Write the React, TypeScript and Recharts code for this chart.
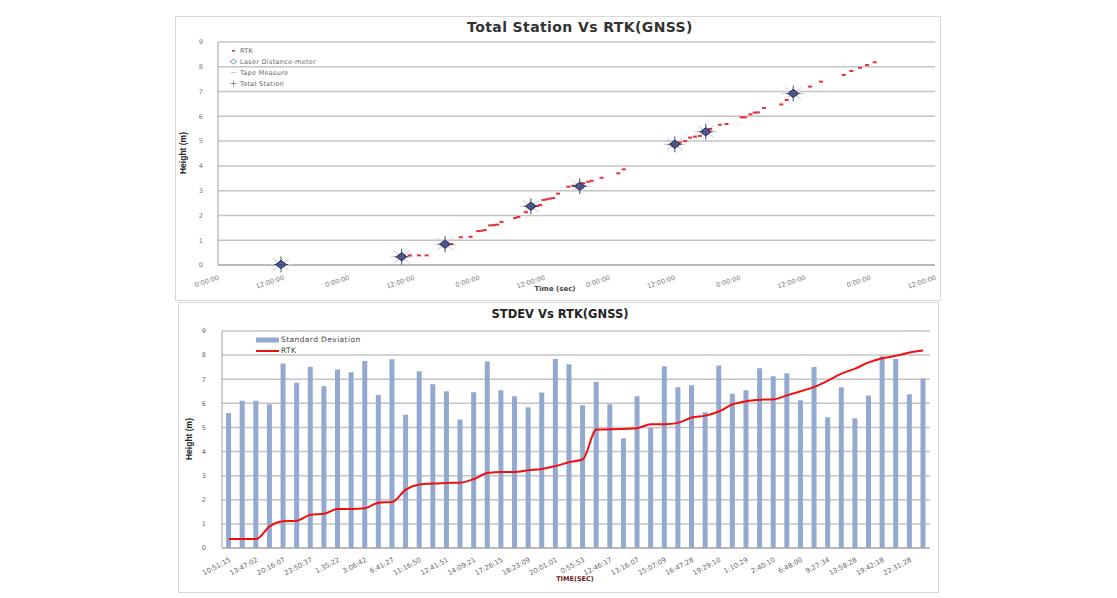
import React from 'react';
import { ScatterChart, Scatter, XAxis, YAxis, CartesianGrid, ComposedChart, Bar, Line } from 'recharts';

// ---------- Top chart data (time in hours since start) ----------
const rtkHours = [35.3, 37.0, 38.4, 43.0, 44.7, 46.5, 47.9, 48.5, 49.1, 50.1, 50.8, 51.4, 52.2, 54.7, 55.3, 56.7, 58.0, 58.7, 59.3, 59.9, 60.5, 61.1, 61.7, 62.6, 64.5, 65.4, 67.2, 68.2, 68.8, 70.6, 73.7, 74.7, 85.0, 86.0, 86.9, 87.8, 88.7, 90.6, 92.4, 93.6, 96.4, 97.0, 98.0, 98.8, 99.4, 100.5, 103.7, 104.7, 109.0, 111.0, 115.2, 116.6, 118.2, 119.5, 120.9];
const rtkHeights = [0.39, 0.39, 0.39, 0.84, 1.12, 1.14, 1.37, 1.38, 1.41, 1.6, 1.61, 1.63, 1.74, 1.9, 1.94, 2.13, 2.35, 2.38, 2.42, 2.62, 2.65, 2.68, 2.7, 2.88, 3.16, 3.2, 3.3, 3.36, 3.4, 3.52, 3.7, 3.86, 4.94, 5.0, 5.14, 5.18, 5.21, 5.49, 5.66, 5.69, 5.96, 5.96, 6.08, 6.15, 6.16, 6.34, 6.48, 6.66, 7.2, 7.4, 7.67, 7.83, 7.96, 8.07, 8.18];
const stationHours = [11.6, 33.8, 41.8, 57.6, 66.6, 84.1, 89.8, 105.9];
const stationHeights = [0.02, 0.33, 0.84, 2.37, 3.18, 4.87, 5.38, 6.92];
const timeTicks = [0, 12, 24, 36, 48, 60, 72, 84, 96, 108, 120, 132];
const timeTickLabels = ['0:00:00', '12:00:00', '0:00:00', '12:00:00', '0:00:00', '12:00:00', '0:00:00', '12:00:00', '0:00:00', '12:00:00', '0:00:00', '12:00:00'];
const heightTicks = [0, 1, 2, 3, 4, 5, 6, 7, 8, 9];

// ---------- Bottom chart data ----------
const sampleTickLabels = ['10:51:15', '13:47:02', '20:16:07', '23:50:37', '1:35:22', '3:06:42', '6:41:27', '11:16:50', '12:41:51', '14:09:21', '17:26:15', '18:23:09', '20:01:01', '0:55:53', '12:46:17', '13:16:07', '15:07:09', '16:47:28', '19:29:10', '1:10:29', '2:40:10', '6:48:00', '9:27:34', '13:58:28', '19:42:18', '22:31:28'];
const stdevValues = [5.6, 6.11, 6.11, 5.96, 7.65, 6.85, 7.52, 6.71, 7.4, 7.29, 7.76, 6.35, 7.83, 5.53, 7.33, 6.79, 6.5, 5.33, 6.46, 7.73, 6.54, 6.29, 5.84, 6.45, 7.84, 7.62, 5.92, 6.9, 5.96, 4.55, 6.29, 4.98, 7.54, 6.67, 6.75, 5.63, 7.57, 6.4, 6.54, 7.46, 7.12, 7.25, 6.13, 7.51, 5.42, 6.67, 5.38, 6.33, 7.95, 7.84, 6.38, 7.03];
const rtkLineValues = [0.37, 0.37, 0.37, 0.9, 1.11, 1.13, 1.38, 1.42, 1.62, 1.62, 1.65, 1.88, 1.91, 2.42, 2.63, 2.67, 2.7, 2.71, 2.86, 3.11, 3.15, 3.15, 3.22, 3.28, 3.4, 3.56, 3.68, 4.91, 4.92, 4.94, 4.97, 5.13, 5.13, 5.19, 5.41, 5.49, 5.66, 5.96, 6.09, 6.15, 6.17, 6.33, 6.5, 6.68, 6.94, 7.23, 7.44, 7.7, 7.87, 7.97, 8.11, 8.19];

const rtkPoints = rtkHours.map((h, i) => ({ h, v: rtkHeights[i] }));
const stationPoints = stationHours.map((h, i) => ({ h, v: stationHeights[i] }));
const barData = stdevValues.map((sd, i) => ({ idx: i, sd, rtk: rtkLineValues[i] }));

const FONT = '"DejaVu Sans", Verdana, sans-serif';
const GRID = '#C4C4C4';

const RtkShape = (p: any) => <rect x={p.cx - 2} y={p.cy - 1} width={4} height={2} fill="#E8303A" />;
const TapeShape = (p: any) => (
  <g stroke="#CACACA" strokeWidth={1}>
    <line x1={p.cx - 11} y1={p.cy} x2={p.cx + 11} y2={p.cy} />
    <line x1={p.cx - 8} y1={p.cy - 6} x2={p.cx + 8} y2={p.cy + 6} />
    <line x1={p.cx - 8} y1={p.cy + 6} x2={p.cx + 8} y2={p.cy - 6} />
  </g>
);
const LaserShape = (p: any) => (
  <path d={`M${p.cx},${p.cy - 4} L${p.cx + 5},${p.cy} L${p.cx},${p.cy + 4} L${p.cx - 5},${p.cy} Z`} fill="#5C6C9C" stroke="#26357A" strokeWidth={1.2} />
);
const StationShape = (p: any) => (
  <g stroke="#4A4A6A" strokeWidth={1}>
    <line x1={p.cx} y1={p.cy - 8} x2={p.cx} y2={p.cy + 8} />
    <line x1={p.cx - 7} y1={p.cy} x2={p.cx + 7} y2={p.cy} />
  </g>
);

const legendItem = (icon: React.ReactNode, text: string, top: number) => (
  <div style={{ position: 'absolute', left: 229, top, display: 'flex', alignItems: 'center', fontFamily: FONT, fontSize: 6.5, color: '#666', whiteSpace: 'nowrap', letterSpacing: 0.3 }}>
    <svg width={9} height={9} style={{ marginRight: 2 }}>{icon}</svg>
    {text}
  </div>
);

export default function App() {
  return (
    <div style={{ position: 'absolute', left: 0, top: 0, width: 1117, height: 598, background: '#fff', fontFamily: FONT }}>
      {/* Top panel */}
      <div style={{ position: 'absolute', left: 175, top: 16, width: 764, height: 283, border: '1px solid #D9D9D9' }} />
      <div style={{ position: 'absolute', left: 175, top: 16 }}>
        <ScatterChart width={765} height={284} margin={{ top: 26, right: 5, left: 0, bottom: 0 }}>
          <CartesianGrid vertical={false} stroke={GRID} strokeWidth={1.5} />
          <XAxis type="number" dataKey="h" domain={[0, 132]} ticks={timeTicks} interval={0} height={35}
            tickFormatter={(v: number) => timeTickLabels[timeTicks.indexOf(v)]}
            tick={{ fontSize: 6.5, fill: '#777', fontFamily: FONT }} angle={-18} textAnchor="end"
            tickLine={false} axisLine={{ stroke: '#A0A0A0' }} tickMargin={4} />
          <YAxis type="number" dataKey="v" domain={[0, 9]} ticks={heightTicks} interval={0} width={43}
            tick={{ fontSize: 6.5, fill: '#777', fontFamily: FONT }} tickLine={false} axisLine={{ stroke: '#A0A0A0' }} tickMargin={9} />
          <Scatter name="Tape Measure" data={stationPoints} shape={TapeShape} isAnimationActive={false} />
          <Scatter name="RTK" data={rtkPoints} shape={RtkShape} isAnimationActive={false} />
          <Scatter name="Laser Distance-meter" data={stationPoints} shape={LaserShape} isAnimationActive={false} />
          <Scatter name="Total Station" data={stationPoints} shape={StationShape} isAnimationActive={false} />
        </ScatterChart>
      </div>
      <div style={{ position: 'absolute', left: 380, top: 19, width: 400, textAlign: 'center', fontWeight: 'bold', fontSize: 14, letterSpacing: 0.4, color: '#333' }}>Total Station Vs RTK(GNSS)</div>
      <div style={{ position: 'absolute', left: 143, top: 148, width: 80, textAlign: 'center', transform: 'rotate(-90deg)', fontFamily: '"Liberation Sans Narrow", "Liberation Sans", sans-serif', fontWeight: 'bold', fontSize: 8.5, color: '#222' }}>Height (m)</div>
      <div style={{ position: 'absolute', left: 515, top: 285, width: 80, textAlign: 'center', fontWeight: 'bold', fontSize: 7, color: '#444' }}>Time (sec)</div>
      {legendItem(<rect x={3} y={4} width={3} height={1.5} fill="#E8202A" />, 'RTK', 46)}
      {legendItem(<path d="M4.5,2 L7.5,4.5 L4.5,7 L1.5,4.5 Z" fill="none" stroke="#5A6AA8" strokeWidth={0.8} />, 'Laser Distance-meter', 57)}
      {legendItem(<line x1={2} y1={4.5} x2={7} y2={4.5} stroke="#D8D0A0" strokeWidth={1} />, 'Tape Measure', 68)}
      {legendItem(<g stroke="#777" strokeWidth={0.8}><line x1={4.5} y1={1.5} x2={4.5} y2={7.5} /><line x1={1.5} y1={4.5} x2={7.5} y2={4.5} /></g>, 'Total Station', 79)}

      {/* Bottom panel */}
      <div style={{ position: 'absolute', left: 178, top: 302, width: 759, height: 289, border: '1px solid #D9D9D9' }} />
      <div style={{ position: 'absolute', left: 178, top: 302 }}>
        <ComposedChart width={760} height={290} data={barData} margin={{ top: 29, right: 8, left: 0, bottom: 0 }} barCategoryGap="30%">
          <CartesianGrid vertical={false} stroke={GRID} strokeWidth={1.5} />
          <XAxis dataKey="idx" interval={1} height={44}
            tickFormatter={(v: number) => sampleTickLabels[v / 2] ?? ''}
            tick={{ fontSize: 6.8, fill: '#666', fontFamily: FONT }} angle={-28} textAnchor="end"
            tickLine={false} axisLine={{ stroke: '#A0A0A0' }} tickMargin={3} />
          <YAxis type="number" domain={[0, 9]} ticks={heightTicks} interval={0} width={44}
            tick={{ fontSize: 6.5, fill: '#666', fontFamily: FONT }} tickLine={false} axisLine={{ stroke: '#A0A0A0' }} tickMargin={10} />
          <Bar dataKey="sd" name="Standard Deviation" fill="#93A9D0" isAnimationActive={false} />
          <Line dataKey="rtk" name="RTK" type="monotone" stroke="#F01010" strokeWidth={2} dot={false} isAnimationActive={false} />
        </ComposedChart>
      </div>
      <div style={{ position: 'absolute', left: 360, top: 307, width: 400, textAlign: 'center', fontWeight: 'bold', fontSize: 11.5, color: '#222' }}>STDEV Vs RTK(GNSS)</div>
      <div style={{ position: 'absolute', left: 149, top: 434, width: 80, textAlign: 'center', transform: 'rotate(-90deg)', fontFamily: '"Liberation Sans Narrow", "Liberation Sans", sans-serif', fontWeight: 'bold', fontSize: 8.5, color: '#222' }}>Height (m)</div>
      <div style={{ position: 'absolute', left: 535, top: 575, width: 80, textAlign: 'center', fontWeight: 'bold', fontSize: 6.5, color: '#6A1A1A' }}>TIME(SEC)</div>
      <div style={{ position: 'absolute', left: 256, top: 335, display: 'flex', alignItems: 'center', fontSize: 7.5, color: '#444', letterSpacing: 0.4 }}>
        <svg width={24} height={8}><rect x={0} y={1.5} width={23} height={5} fill="#93A9D0" /></svg>
        <span style={{ marginLeft: 1 }}>Standard Deviation</span>
      </div>
      <div style={{ position: 'absolute', left: 256, top: 346, display: 'flex', alignItems: 'center', fontSize: 7.5, color: '#444', letterSpacing: 0.4 }}>
        <svg width={24} height={8}><line x1={0} y1={4} x2={23} y2={4} stroke="#F01010" strokeWidth={2} /></svg>
        <span style={{ marginLeft: 1 }}>RTK</span>
      </div>
    </div>
  );
}
